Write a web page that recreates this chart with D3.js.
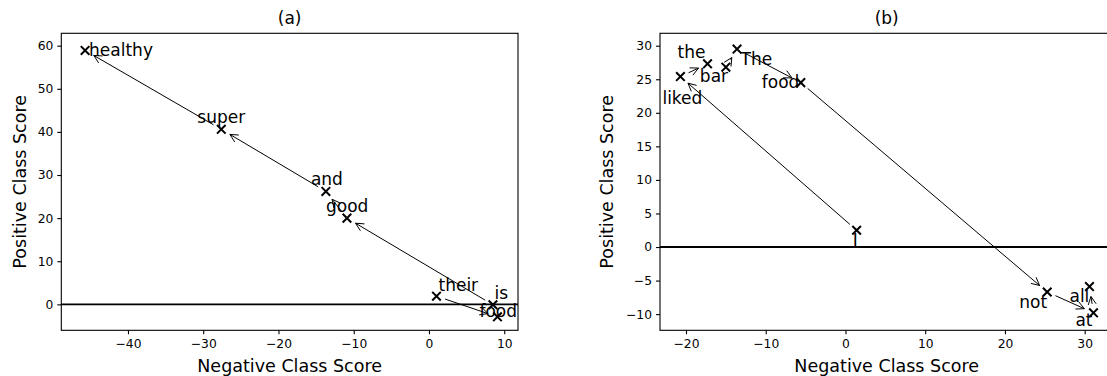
<!DOCTYPE html>
<html>
<head>
<meta charset="utf-8">
<script src="https://cdn.jsdelivr.net/npm/d3@7"></script>
<style>
  body { margin: 0; background: #fff; }
  svg text { font-family: "DejaVu Sans", sans-serif; fill: #000; }
</style>
</head>
<body>
<svg id="chart" width="1107" height="376"></svg>
<script>
// panel (a): word order of the sentence, cumulative scores
const wordsA = ['their', 'food', 'is', 'good', 'and', 'super', 'healthy']
const negA = [1.0, 9.1, 8.5, -10.9, -13.7, -27.6, -45.7]
const posA = [1.9, -2.9, -0.1, 20.0, 26.2, 40.6, 58.9]
const xTicksA = [-40, -30, -20, -10, 0, 10]
const yTicksA = [0, 10, 20, 30, 40, 50, 60]

// panel (b)
const wordsB = ['I', 'liked', 'the', 'bar', 'The', 'food', 'not', 'at', 'all']
const negB = [1.4, -20.7, -17.3, -15.0, -13.6, -5.6, 25.3, 31.1, 30.6]
const posB = [2.5, 25.4, 27.3, 26.8, 29.5, 24.5, -6.7, -9.8, -5.9]
const xTicksB = [-20, -10, 0, 10, 20, 30]
const yTicksB = [-10, -5, 0, 5, 10, 15, 20, 25, 30]

// label placement (px from the marker), layout only
const labelOffA = [[2, -5.5], [-18, 0], [1.5, -5.5], [-21, -6], [-15, -6], [-24, -6.5], [4, 6]]
const labelOffB = [[-4, 16], [-18, 27], [-30, -5.5], [-26, 15], [3.5, 16], [-39, 5.5], [-28, 16], [-18, 13], [-20, 15]]

const svg = d3.select('#chart')

function drawPanel (o) {
  const x = d3.scaleLinear().domain(o.xDom).range([o.left, o.right])
  const y = d3.scaleLinear().domain(o.yDom).range([o.bottom, o.top])
  const g = svg.append('g')
  const pts = o.words.map((w, i) => ({ w: w, px: x(o.neg[i]), py: y(o.pos[i]), off: o.off[i] }))

  // frame
  g.append('rect')
    .attr('x', o.left).attr('y', o.top)
    .attr('width', o.right - o.left).attr('height', o.bottom - o.top)
    .attr('fill', 'none').attr('stroke', '#000').attr('stroke-width', 1.1)

  // zero line
  g.append('line')
    .attr('x1', o.left).attr('x2', o.right)
    .attr('y1', y(0)).attr('y2', y(0))
    .attr('stroke', '#000').attr('stroke-width', 1.8)

  const xAxis = d3.axisBottom(x).tickValues(o.xTicks).tickSize(4).tickPadding(5)
  const yAxis = d3.axisLeft(y).tickValues(o.yTicks).tickSize(4).tickPadding(4)
  g.append('g').attr('transform', `translate(0,${o.bottom})`).call(xAxis)
  g.append('g').attr('transform', `translate(${o.left},0)`).call(yAxis)
  g.selectAll('.domain').remove()
  g.selectAll('.tick line').attr('stroke', '#000').attr('stroke-width', 1.1)
  g.selectAll('.tick text').attr('font-size', 12.3).attr('font-family', 'DejaVu Sans').attr('fill', '#000')

  // arrows between consecutive words
  const shrinkA = 9
  const shrinkB = 10
  const headLen = 8
  const headW = 4
  for (let i = 0; i < pts.length - 1; i++) {
    const a = pts[i]
    const b = pts[i + 1]
    const dx = b.px - a.px
    const dy = b.py - a.py
    const len = Math.sqrt(dx * dx + dy * dy)
    if (len <= shrinkA + shrinkB) continue
    const ux = dx / len
    const uy = dy / len
    const sx = a.px + ux * shrinkA
    const sy = a.py + uy * shrinkA
    const ex = b.px - ux * shrinkB
    const ey = b.py - uy * shrinkB
    const p = d3.path()
    p.moveTo(sx, sy)
    p.lineTo(ex, ey)
    p.moveTo(ex - ux * headLen - uy * headW, ey - uy * headLen + ux * headW)
    p.lineTo(ex, ey)
    p.lineTo(ex - ux * headLen + uy * headW, ey - uy * headLen - ux * headW)
    g.append('path').attr('d', p.toString())
      .attr('fill', 'none').attr('stroke', '#000').attr('stroke-width', 1)
  }

  // x markers
  const m = 4.3
  g.selectAll('path.mark').data(pts).enter().append('path')
    .attr('class', 'mark')
    .attr('d', d => `M${d.px - m},${d.py - m}L${d.px + m},${d.py + m}M${d.px - m},${d.py + m}L${d.px + m},${d.py - m}`)
    .attr('stroke', '#000').attr('stroke-width', 2).attr('fill', 'none')

  // word labels
  g.selectAll('text.word').data(pts).enter().append('text')
    .attr('class', 'word')
    .attr('x', d => d.px + d.off[0])
    .attr('y', d => d.py + d.off[1])
    .attr('font-size', 17)
    .text(d => d.w)

  // titles
  const cx = (o.left + o.right) / 2
  g.append('text').attr('x', cx).attr('y', 24).attr('text-anchor', 'middle')
    .attr('font-size', 17).text(o.title)
  g.append('text').attr('x', cx).attr('y', 372).attr('text-anchor', 'middle')
    .attr('font-size', 17.5).text('Negative Class Score')
  g.append('text')
    .attr('transform', `translate(${o.ylabX},${(o.top + o.bottom) / 2}) rotate(-90)`)
    .attr('text-anchor', 'middle')
    .attr('font-size', 17.5).text('Positive Class Score')
}

drawPanel({
  title: '(a)', words: wordsA, neg: negA, pos: posA, off: labelOffA,
  xTicks: xTicksA, yTicks: yTicksA,
  xDom: [-48.86, 11.83], yDom: [-6.02, 62.87],
  left: 61.3, right: 518, top: 33.3, bottom: 330.3, ylabX: 26
})

drawPanel({
  title: '(b)', words: wordsB, neg: negB, pos: posB, off: labelOffB,
  xTicks: xTicksB, yTicks: yTicksB,
  xDom: [-23.26, 33.6], yDom: [-12.41, 31.85],
  left: 660, right: 1113.4, top: 33.3, bottom: 330.3, ylabX: 613
})
</script>
</body>
</html>
